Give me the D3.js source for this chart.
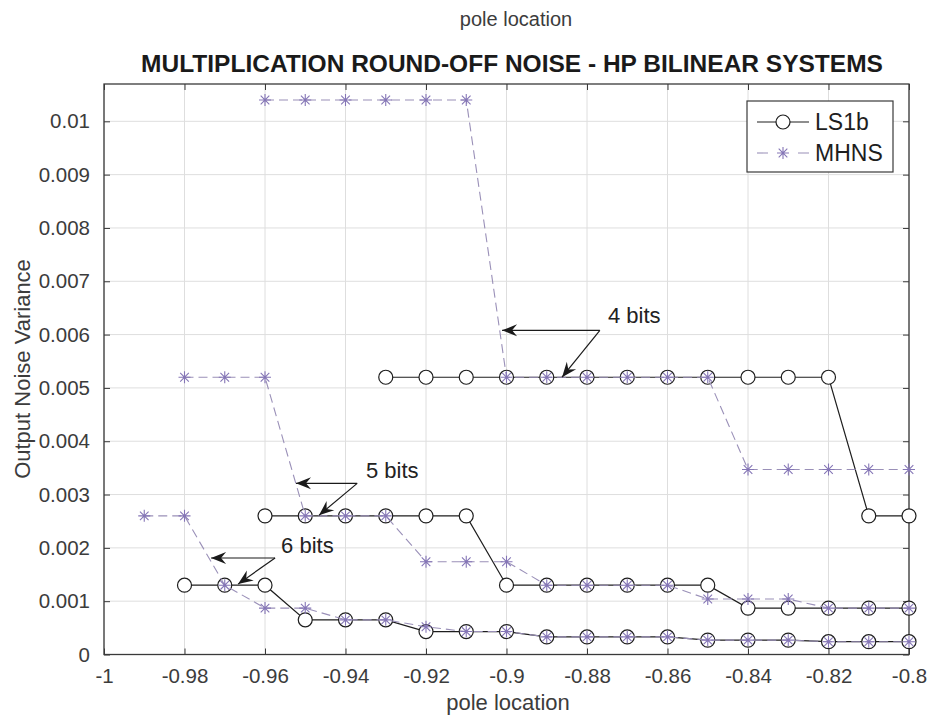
<!DOCTYPE html>
<html>
<head>
<meta charset="utf-8">
<script src="https://cdn.jsdelivr.net/npm/d3@7"></script>
<style>
  body { margin: 0; background: #fff; }
  text { font-family: "Liberation Sans", Arial, sans-serif; }
</style>
</head>
<body>
<div class="wrapper"></div>
<script>
// pole locations and output noise variance
var ls1b4X = [-0.93, -0.92, -0.91, -0.90, -0.89, -0.88, -0.87, -0.86, -0.85, -0.84, -0.83, -0.82, -0.81, -0.80];
var ls1b4Y = [0.0052, 0.0052, 0.0052, 0.0052, 0.0052, 0.0052, 0.0052, 0.0052, 0.0052, 0.0052, 0.0052, 0.0052, 0.0026, 0.0026];

var ls1b5X = [-0.96, -0.95, -0.94, -0.93, -0.92, -0.91, -0.90, -0.89, -0.88, -0.87, -0.86, -0.85, -0.84, -0.83, -0.82, -0.81, -0.80];
var ls1b5Y = [0.0026, 0.0026, 0.0026, 0.0026, 0.0026, 0.0026, 0.0013, 0.0013, 0.0013, 0.0013, 0.0013, 0.0013, 0.00087, 0.00087, 0.00087, 0.00087, 0.00087];

var ls1b6X = [-0.98, -0.97, -0.96, -0.95, -0.94, -0.93, -0.92, -0.91, -0.90, -0.89, -0.88, -0.87, -0.86, -0.85, -0.84, -0.83, -0.82, -0.81, -0.80];
var ls1b6Y = [0.0013, 0.0013, 0.0013, 0.00065, 0.00065, 0.00065, 0.00043, 0.00043, 0.00043, 0.00033, 0.00033, 0.00033, 0.00033, 0.00027, 0.00027, 0.00027, 0.00024, 0.00024, 0.00024];

var mhns4X = [-0.96, -0.95, -0.94, -0.93, -0.92, -0.91, -0.90, -0.89, -0.88, -0.87, -0.86, -0.85, -0.84, -0.83, -0.82, -0.81, -0.80];
var mhns4Y = [0.0104, 0.0104, 0.0104, 0.0104, 0.0104, 0.0104, 0.0052, 0.0052, 0.0052, 0.0052, 0.0052, 0.0052, 0.00347, 0.00347, 0.00347, 0.00347, 0.00347];

var mhns5X = [-0.98, -0.97, -0.96, -0.95, -0.94, -0.93, -0.92, -0.91, -0.90, -0.89, -0.88, -0.87, -0.86, -0.85, -0.84, -0.83, -0.82, -0.81, -0.80];
var mhns5Y = [0.0052, 0.0052, 0.0052, 0.0026, 0.0026, 0.0026, 0.00174, 0.00174, 0.00174, 0.0013, 0.0013, 0.0013, 0.0013, 0.00104, 0.00104, 0.00104, 0.00087, 0.00087, 0.00087];

var mhns6X = [-0.99, -0.98, -0.97, -0.96, -0.95, -0.94, -0.93, -0.92, -0.91, -0.90, -0.89, -0.88, -0.87, -0.86, -0.85, -0.84, -0.83, -0.82, -0.81, -0.80];
var mhns6Y = [0.0026, 0.0026, 0.0013, 0.00087, 0.00087, 0.00065, 0.00065, 0.00052, 0.00043, 0.00043, 0.00033, 0.00033, 0.00033, 0.00033, 0.00027, 0.00027, 0.00027, 0.00024, 0.00024, 0.00024];

var xTicks = [-1, -0.98, -0.96, -0.94, -0.92, -0.9, -0.88, -0.86, -0.84, -0.82, -0.8];
var yTicks = [0, 0.001, 0.002, 0.003, 0.004, 0.005, 0.006, 0.007, 0.008, 0.009, 0.01];

// annotation arrows in data units: label, text anchor, junction, left tip, lower tip
var notes = [
    { label: "4 bits", tx: -0.8748, ty: 0.00636, jx: -0.8768, jy: 0.00608, ax: -0.9011, ay: 0.00608, bx: -0.8862, by: 0.00520 },
    { label: "5 bits", tx: -0.9349, ty: 0.00345, jx: -0.9371, jy: 0.00321, ax: -0.9523, ay: 0.00321, bx: -0.9466, by: 0.00261 },
    { label: "6 bits", tx: -0.9560, ty: 0.00205, jx: -0.9575, jy: 0.00181, ax: -0.9734, ay: 0.00181, bx: -0.9667, by: 0.00132 }
];

var width = 932, height = 721;
var margin = { top: 84, right: 23, bottom: 66.5, left: 104 };

var svg = d3.select(".wrapper").append("svg")
    .attr("width", width)
    .attr("height", height);

var x = d3.scaleLinear().domain([-1, -0.8]).range([margin.left, width - margin.right]);
var y = d3.scaleLinear().domain([0, 0.0107]).range([height - margin.bottom, margin.top]);

var axisColor = "#3a3a3a";
var purple = "#8576b6";
var plain = d => String(d);  // keep the hyphen minus like the original

// grid
svg.append("g").selectAll("line").data(xTicks).enter().append("line")
    .attr("x1", d => x(d)).attr("x2", d => x(d))
    .attr("y1", y.range()[0]).attr("y2", y.range()[1])
    .attr("stroke", "#dedede").attr("stroke-width", 1);
svg.append("g").selectAll("line").data(yTicks).enter().append("line")
    .attr("y1", d => y(d)).attr("y2", d => y(d))
    .attr("x1", x.range()[0]).attr("x2", x.range()[1])
    .attr("stroke", "#dedede").attr("stroke-width", 1);

// axes with inward ticks on all four sides (box on)
function styleAxis(g) {
    g.select(".domain").remove();
    g.selectAll(".tick line").attr("stroke", axisColor).attr("stroke-width", 1);
    g.selectAll(".tick text").attr("fill", "#3c3c3c").style("font-size", "20.5px")
        .style("font-family", "'Liberation Sans', Arial, sans-serif");
}

svg.append("g")
    .attr("transform", "translate(0," + y.range()[0] + ")")
    .call(d3.axisBottom(x).tickValues(xTicks).tickFormat(plain).tickSizeInner(-6).tickPadding(14))
    .call(styleAxis);
svg.append("g")
    .attr("transform", "translate(0," + y.range()[1] + ")")
    .call(d3.axisTop(x).tickValues(xTicks).tickFormat("").tickSizeInner(-6))
    .call(styleAxis);
svg.append("g")
    .attr("transform", "translate(" + x.range()[0] + ",0)")
    .call(d3.axisLeft(y).tickValues(yTicks).tickFormat(plain).tickSizeInner(-6).tickPadding(14))
    .call(styleAxis);
svg.append("g")
    .attr("transform", "translate(" + x.range()[1] + ",0)")
    .call(d3.axisRight(y).tickValues(yTicks).tickFormat("").tickSizeInner(-6))
    .call(styleAxis);

svg.append("rect")
    .attr("x", x.range()[0]).attr("y", y.range()[1])
    .attr("width", x.range()[1] - x.range()[0])
    .attr("height", y.range()[0] - y.range()[1])
    .attr("fill", "none").attr("stroke", axisColor).attr("stroke-width", 1.3);

// series
var line = d3.line().x(d => x(d[0])).y(d => y(d[1]));

function starPath(r) {
    var a = r * 0.72;
    return "M" + (-r) + ",0L" + r + ",0M0," + (-r) + "L0," + r +
        "M" + (-a) + "," + (-a) + "L" + a + "," + a + "M" + (-a) + "," + a + "L" + a + "," + (-a);
}

var lsSets = [[ls1b4X, ls1b4Y], [ls1b5X, ls1b5Y], [ls1b6X, ls1b6Y]];
var mhSets = [[mhns4X, mhns4Y], [mhns5X, mhns5Y], [mhns6X, mhns6Y]];

lsSets.forEach(function(s) {
    var pts = d3.zip(s[0], s[1]);
    svg.append("path").datum(pts)
        .attr("d", line).attr("fill", "none")
        .attr("stroke", "#1e1e1e").attr("stroke-width", 1.2);
    svg.append("g").selectAll("circle").data(pts).enter().append("circle")
        .attr("cx", d => x(d[0])).attr("cy", d => y(d[1])).attr("r", 7)
        .attr("fill", "#fff").attr("stroke", "#1e1e1e").attr("stroke-width", 1.2);
});

mhSets.forEach(function(s) {
    var pts = d3.zip(s[0], s[1]);
    svg.append("path").datum(pts)
        .attr("d", line).attr("fill", "none")
        .attr("stroke", "#9a90b8").attr("stroke-width", 1.1)
        .attr("stroke-dasharray", "9,5");
    svg.append("g").selectAll("path").data(pts).enter().append("path")
        .attr("transform", d => "translate(" + x(d[0]) + "," + y(d[1]) + ")")
        .attr("d", starPath(6))
        .attr("fill", "none").attr("stroke", purple).attr("stroke-width", 1.1);
});

// annotations
function arrowHead(x1, y1, x2, y2) {
    var ang = Math.atan2(y2 - y1, x2 - x1) * 180 / Math.PI;
    svg.append("path")
        .attr("transform", "translate(" + x2 + "," + y2 + ") rotate(" + ang + ")")
        .attr("d", "M0,0L-15,-6L-10,0L-15,6Z")
        .attr("fill", "#1a1a1a");
}

notes.forEach(function(n) {
    var jx = x(n.jx), jy = y(n.jy);
    svg.append("line").attr("x1", jx).attr("y1", jy).attr("x2", x(n.ax)).attr("y2", y(n.ay))
        .attr("stroke", "#1a1a1a").attr("stroke-width", 1.2);
    svg.append("line").attr("x1", jx).attr("y1", jy).attr("x2", x(n.bx)).attr("y2", y(n.by))
        .attr("stroke", "#1a1a1a").attr("stroke-width", 1.2);
    arrowHead(jx, jy, x(n.ax), y(n.ay));
    arrowHead(jx, jy, x(n.bx), y(n.by));
    svg.append("text").attr("x", x(n.tx)).attr("y", y(n.ty)).attr("dy", "0.35em")
        .attr("fill", "#222").style("font-size", "22px").text(n.label);
});

// legend
var lg = svg.append("g");
lg.append("rect").attr("x", 747).attr("y", 101).attr("width", 146).attr("height", 71)
    .attr("fill", "#fff").attr("stroke", axisColor).attr("stroke-width", 1.2);
lg.append("line").attr("x1", 757).attr("x2", 809).attr("y1", 122).attr("y2", 122)
    .attr("stroke", "#1e1e1e").attr("stroke-width", 1.2);
lg.append("circle").attr("cx", 783).attr("cy", 122).attr("r", 7)
    .attr("fill", "#fff").attr("stroke", "#1e1e1e").attr("stroke-width", 1.2);
lg.append("text").attr("x", 815).attr("y", 122).attr("dy", "0.36em")
    .attr("fill", "#1e1e1e").style("font-size", "23px").text("LS1b");
lg.append("line").attr("x1", 757).attr("x2", 809).attr("y1", 153).attr("y2", 153)
    .attr("stroke", "#9a90b8").attr("stroke-width", 1.1).attr("stroke-dasharray", "11,30");
lg.append("path").attr("transform", "translate(783,153)").attr("d", starPath(6))
    .attr("fill", "none").attr("stroke", purple).attr("stroke-width", 1.1);
lg.append("text").attr("x", 815).attr("y", 153).attr("dy", "0.36em")
    .attr("fill", "#1e1e1e").style("font-size", "23px").text("MHNS");

// titles and labels
svg.append("text").attr("x", 512).attr("y", 72).attr("text-anchor", "middle")
    .attr("fill", "#1a1a1a").style("font-size", "24.5px").style("font-weight", "bold")
    .text("MULTIPLICATION ROUND-OFF NOISE - HP BILINEAR SYSTEMS");
svg.append("text").attr("x", 516).attr("y", 26).attr("text-anchor", "middle")
    .attr("fill", "#3c3c3c").style("font-size", "20px").text("pole location");
svg.append("text").attr("x", 508).attr("y", 710).attr("text-anchor", "middle")
    .attr("fill", "#3c3c3c").style("font-size", "22px").text("pole location");
svg.append("text").attr("transform", "translate(30,369) rotate(-90)").attr("text-anchor", "middle")
    .attr("fill", "#3c3c3c").style("font-size", "22px").text("Output Noise Variance");
</script>
</body>
</html>
